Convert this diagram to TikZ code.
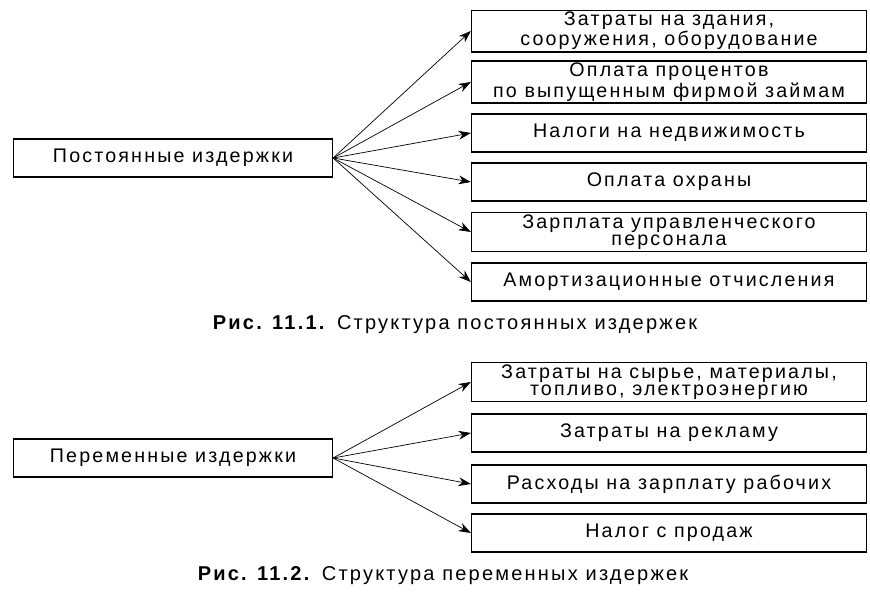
\documentclass[tikz,border=0pt]{standalone}
\usepackage{fontspec}
\setmainfont{Liberation Sans}[LetterSpace=11]
\usetikzlibrary{arrows.meta}

\tikzset{
  costbox/.style={draw, thick, minimum height=0.76cm, align=center, font=\fontsize{11.2}{9.8}\selectfont, inner sep=1pt},
  mainbox/.style={costbox, minimum width=6.38cm},
  itembox/.style={costbox, minimum width=7.9cm},
  costarrow/.style={-{Stealth[length=7pt,width=5pt]}, thin}
}

\begin{document}
\begin{tikzpicture}[x=0.02cm,y=-0.02cm]
\useasboundingbox (0,0) rectangle (870,606);

% Fixed costs
\node[mainbox] (fixed) at (173,158) {Постоянные издержки};
\node[itembox] (f1) at (669,31) {Затраты на здания,\\сооружения, оборудование};
\node[itembox] (f2) at (669,82) {Оплата процентов\\по выпущенным фирмой займам};
\node[itembox] (f3) at (669,133) {Налоги на недвижимость};
\node[itembox] (f4) at (669,182) {Оплата охраны};
\node[itembox] (f5) at (669,232) {Зарплата управленческого\\персонала};
\node[itembox] (f6) at (669,282) {Амортизационные отчисления};

% Arrows
\foreach \i in {1,...,6}
  \draw[costarrow] (fixed.east) -- (f\i.west);

\node[font=\fontsize{11.4}{10}\selectfont] (cap1) at (455,325) {\textbf{Рис. 11.1.} Структура постоянных издержек};

% Variable costs
\node[mainbox] (variable) at (173,458) {Переменные издержки};
\node[itembox] (v1) at (669,382) {Затраты на сырье, материалы,\\топливо, электроэнергию};
\node[itembox] (v2) at (669,433) {Затраты на рекламу};
\node[itembox] (v3) at (669,484) {Расходы на зарплату рабочих};
\node[itembox] (v4) at (669,533) {Налог с продаж};

% Arrows
\foreach \i in {1,...,4}
  \draw[costarrow] (variable.east) -- (v\i.west);

\node[font=\fontsize{11.4}{10}\selectfont] (cap2) at (443,576) {\textbf{Рис. 11.2.} Структура переменных издержек};
\end{tikzpicture}
\end{document}
